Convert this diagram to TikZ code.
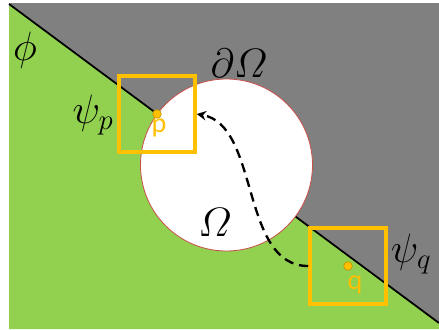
\RequirePackage{fix-cm}
\documentclass[tikz,border=0pt]{standalone}
\usepackage{amsmath}
\usepackage{fontspec}
\newfontfamily\labelfont{Carlito}
\usetikzlibrary{arrows.meta, positioning}
\definecolor{field}{HTML}{92D050}
\definecolor{wall}{HTML}{808080}
\definecolor{boxorange}{HTML}{FFC000}
\definecolor{rim}{HTML}{C8504A}

\begin{document}
\begin{tikzpicture}[x=0.03cm, y=-0.03cm,
    sym/.style={font=\fontsize{35}{40}\selectfont},
    win/.style={draw=boxorange, line width=3pt, minimum size=2.28cm, inner sep=0pt},
    dot/.style={circle, fill=boxorange, draw=boxorange!75!black, line width=0.5pt, inner sep=0pt, minimum size=0.26cm},
    ptlabel/.style={text=boxorange, font=\labelfont\fontsize{24}{28}\selectfont, inner sep=0pt},
    flow/.style={dash pattern=on 8pt off 5pt, line width=2pt, -{Stealth[length=8pt,width=8pt]}}]
    \useasboundingbox (0,0) rectangle (439,329);
    \fill[wall]  (9,3) -- (439,3) -- (439,323) -- (9,4) -- cycle;
    \fill[field] (9,4) -- (439,323) -- (439,329) -- (9,329) -- cycle;
    \draw[line width=1.5pt] (9,4) -- (439,323);
    \draw[rim, fill=white, line width=0.7pt] (226.5,165) circle [radius=86];
    \node[win] (pbox) at (157,114) {};
    \node[win] (qbox) at (348,266) {};
    \node[dot] (p) at (157,114) {};
    \node[dot] (q) at (348,266) {};
    \node[ptlabel] (plab) at (159,128) {p};
    \node[ptlabel] (qlab) at (355,285) {q};
    \node[sym] (phi) at (25,50) {$\phi$};
    \node[sym] (psip) at (93,115) {$\psi_p$};
    \node[sym] (bdry) at (239,63) {$\partial\varOmega$};
    \node[sym] (dom) at (215,222) {$\varOmega$};
    \node[sym] (psiq) at (411,254) {$\psi_q$};
    \draw[flow] (qbox.west) .. controls (240,266) and (260,125) .. (pbox.east);
\end{tikzpicture}
\end{document}
